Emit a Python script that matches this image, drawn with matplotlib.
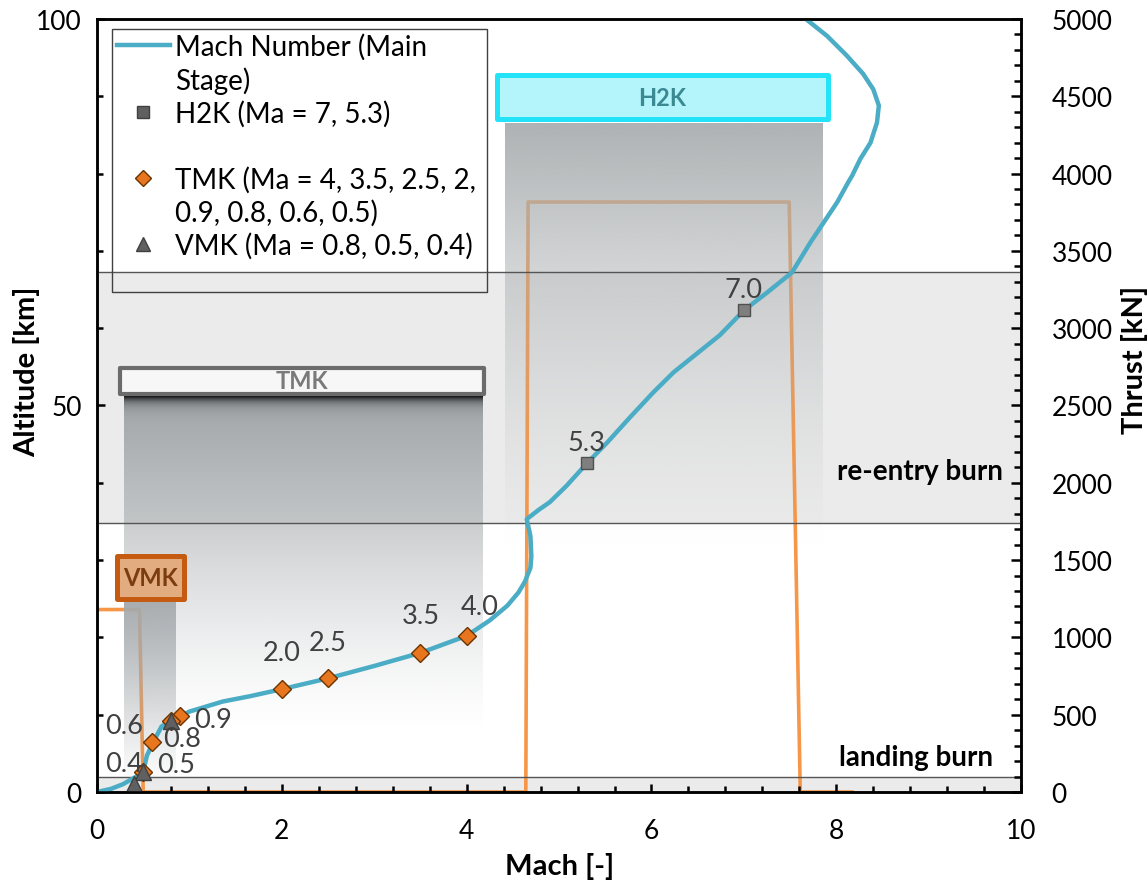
import matplotlib.pyplot as plt
import numpy as np
from matplotlib.lines import Line2D
from matplotlib.patches import Rectangle
from matplotlib.ticker import MultipleLocator

plt.rcParams['font.family'] = ['Lato', 'DejaVu Sans']

# Mach number of the main stage vs altitude
mach_curve = [0.0, 0.15, 0.28, 0.44, 0.50, 0.54, 0.61, 0.70, 0.81, 0.90, 1.0, 1.36, 1.66,
              2.0, 2.5, 3.0, 3.5, 4.0, 4.25, 4.44, 4.56, 4.63, 4.69, 4.70, 4.69, 4.65,
              4.78, 4.90, 5.08, 5.30, 5.52, 5.77, 6.02, 6.24, 6.49, 6.74, 7.00, 7.25,
              7.52, 7.72, 8.01, 8.13, 8.17, 8.26, 8.37, 8.44, 8.46, 8.40, 8.29, 8.11,
              7.90, 7.67]
alt_curve = [0.0, 0.4, 1.0, 2.1, 2.6, 4.7, 6.5, 8.5, 9.2, 9.8, 10.4, 11.7, 12.4,
             13.3, 14.7, 16.3, 18.0, 20.2, 22.2, 24.1, 25.8, 27.2, 29.0, 30.5, 33.1, 35.3,
             36.5, 37.5, 39.6, 42.5, 45.2, 48.5, 51.7, 54.3, 56.7, 59.1, 62.3, 64.6,
             67.2, 71.1, 76.3, 78.9, 79.7, 81.9, 84.0, 86.6, 88.8, 90.9, 92.9, 95.3,
             97.8, 100.0]

# wind tunnel test points
h2k_mach = [7.0, 5.3]
h2k_alt = [62.3, 42.5]
h2k_labels = ['7.0', '5.3']

tmk_mach = [4.0, 3.5, 2.5, 2.0, 0.9, 0.8, 0.6, 0.5]
tmk_alt = [20.2, 18.0, 14.7, 13.3, 9.8, 9.2, 6.5, 2.6]
tmk_labels = ['4.0', '3.5', '2.5', '2.0', '0.9', '0.8', '0.6', '0.5']

vmk_mach = [0.8, 0.5, 0.4]
vmk_alt = [9.2, 2.6, 1.0]
vmk_labels = ['', '', '0.4']

# thrust profile
thrust_mach = [0.0, 0.46, 0.50, 4.64, 4.665, 7.49, 7.61, 8.17]
thrust_kn = [1180, 1180, 0, 0, 3816, 3816, 0, 0]

reentry_band = (34.8, 67.3)
landing_band = (0.0, 1.9)

# label offsets in pixels (style only)
h2k_off = [(0, 21), (0, 21)]
tmk_off = [(13, 29), (0, 37), (0, 36), (0, 37), (33, -3), (11, -18), (-28, 16), (33, 7)]
vmk_off = [(0, 0), (0, 0), (-10, 21)]


def gradient(ax, x0, x1, top, bottom, rgb, power=1.0, amax=0.95, dark_top=False, z=2):
    n = 400
    a = np.linspace(top, bottom, n)
    t = (top - a) / (top - bottom)
    rgba = np.zeros((n, 1, 4))
    col = np.array(rgb) / 255.0
    shade = np.ones(n)
    if dark_top:
        shade = 1 - 0.9 * np.exp(-(top - a) / 0.7)
    rgba[:, 0, :3] = col[None, :] * shade[:, None]
    rgba[:, 0, 3] = amax * (1 - t) ** power
    ax.imshow(rgba, extent=[x0, x1, bottom, top], aspect='auto',
              interpolation='bilinear', zorder=z, origin='upper')


def label_box(ax, x0, x1, y0, y1, face, edge, lw, text, tcolor):
    ax.add_patch(Rectangle((x0, y0), x1 - x0, y1 - y0, facecolor=face, edgecolor=edge,
                           linewidth=lw, joinstyle='round', zorder=4))
    ax.text((x0 + x1) / 2, (y0 + y1) / 2, text, ha='center', va='center',
            fontsize=17, fontweight='bold', color=tcolor, zorder=5)


fig = plt.figure(figsize=(11.48, 8.87), dpi=100)
ax = fig.add_axes([0.0845, 0.106, 0.805, 0.8715])
ax2 = ax.twinx()

ax.set_xlim(0, 10)
ax.set_ylim(0, 100)
ax2.set_ylim(0, 5000)

# burn phases
for lo, hi in [reentry_band, landing_band]:
    ax.axhspan(lo, hi, color='#ebebeb', zorder=0.5, lw=0)
for yv in [reentry_band[0], reentry_band[1], landing_band[1]]:
    ax.axhline(yv, color='#555555', lw=1.0, zorder=6)
ax.text(9.8, 41.5, 're-entry burn', ha='right', va='center', fontsize=20,
        fontweight='bold', zorder=7)
ax.text(9.7, 4.5, 'landing burn', ha='right', va='center', fontsize=20,
        fontweight='bold', zorder=7)

# thrust (right axis scale), drawn under the wind tunnel gradients
ax.plot(thrust_mach, thrust_kn, color='#f79646', lw=2.6, zorder=1.5,
        transform=ax2.transData, solid_joinstyle='round')

# wind tunnel ranges
gradient(ax, 4.42, 7.86, 86.4, 31.0, (170, 174, 176), power=1.4)
gradient(ax, 0.29, 4.17, 51.1, 8.0, (160, 165, 168), power=1.3, amax=1.0, dark_top=True)
gradient(ax, 0.29, 0.85, 24.7, 1.0, (165, 170, 173), power=1.0)

label_box(ax, 4.33, 7.91, 87.0, 92.8, '#b3f5fb', '#22e3f7', 3.6, 'H2K', '#3b8a93')
label_box(ax, 0.25, 4.19, 51.5, 54.9, '#f7f7f7', '#6b6b6b', 3.0, 'TMK', '#7a7a7a')
label_box(ax, 0.22, 0.94, 24.9, 30.5, '#e3ab80', '#c55a11', 3.6, 'VMK', '#7b3c0f')

# Mach curve and test points
ax.plot(mach_curve, alt_curve, color='#4bacc6', lw=3.2, zorder=8,
        solid_joinstyle='round', solid_capstyle='butt')
ax.plot(h2k_mach, h2k_alt, 's', ms=9, mfc='#7f7f7f', mec='#505050', mew=1, zorder=9)
ax.plot(tmk_mach, tmk_alt, 'D', ms=9, mfc='#e8761e', mec='#6b3300', mew=1, zorder=9)
ax.plot(vmk_mach, vmk_alt, '^', ms=11, mfc='#606060', mec='#404040', mew=1, zorder=10)

for xs, ys, labs, offs in [(h2k_mach, h2k_alt, h2k_labels, h2k_off),
                           (tmk_mach, tmk_alt, tmk_labels, tmk_off),
                           (vmk_mach, vmk_alt, vmk_labels, vmk_off)]:
    for x, y, lab, off in zip(xs, ys, labs, offs):
        if lab:
            ax.annotate(lab, (x, y), xytext=off, textcoords='offset pixels',
                        ha='center', va='center', fontsize=19.5, color='#404040', zorder=11)

# legend
ax.add_patch(Rectangle((0.0162, 0.6468), 0.4058, 0.3402, transform=ax.transAxes,
                       facecolor='none', edgecolor='#404040', lw=1.0, zorder=12))
blank = Line2D([], [], linestyle='none')
handles = [Line2D([], [], color='#4bacc6', lw=3.2), blank,
           Line2D([], [], marker='s', ls='none', ms=8, mfc='#606060', mec='#404040'),
           blank,
           Line2D([], [], marker='D', ls='none', ms=8, mfc='#e8761e', mec='#6b3300'),
           blank,
           Line2D([], [], marker='^', ls='none', ms=10, mfc='#606060', mec='#404040')]
labels = ['Mach Number (Main', 'Stage)', 'H2K (Ma = 7, 5.3)', ' ',
          'TMK (Ma = 4, 3.5, 2.5, 2,', '0.9, 0.8, 0.6, 0.5)', 'VMK (Ma = 0.8, 0.5, 0.4)']
leg = ax.legend(handles, labels, loc='upper left', bbox_to_anchor=(0.0216, 0.982),
                frameon=False, fontsize=20, handlelength=1.9, handletextpad=0.2,
                labelspacing=0.23, borderpad=0.0, borderaxespad=0)
leg.set_zorder(12)

# axes styling
for a in (ax, ax2):
    for s in a.spines.values():
        s.set_linewidth(1.8)
        s.set_color('black')

ax.xaxis.set_major_locator(MultipleLocator(2))
ax.xaxis.set_minor_locator(MultipleLocator(0.4))
ax.yaxis.set_major_locator(MultipleLocator(50))
ax.yaxis.set_minor_locator(MultipleLocator(10))
ax2.yaxis.set_major_locator(MultipleLocator(500))
ax2.yaxis.set_minor_locator(MultipleLocator(100))

ax.tick_params(axis='x', which='both', direction='in', top=False, labelsize=19, pad=19)
ax.tick_params(axis='y', which='both', direction='in', right=False, labelsize=19, pad=11)
ax.tick_params(which='major', length=6, width=1.8)
ax.tick_params(which='minor', length=4, width=1.8)
ax2.tick_params(axis='y', which='both', direction='in', labelsize=19, pad=22)
ax2.tick_params(which='major', length=7, width=1.8)
ax2.tick_params(which='minor', length=5, width=1.8)

ax.set_xlabel('Mach [-]', fontsize=21, fontweight='bold', labelpad=6)
ax.set_ylabel('Altitude [km]', fontsize=21, fontweight='bold')
ax2.set_ylabel('Thrust [kN]', fontsize=21, fontweight='bold')
ax.yaxis.set_label_coords(-0.062, 0.545)
ax2.yaxis.set_label_coords(1.108, 0.56)

fig.savefig('out.png', dpi=100)
